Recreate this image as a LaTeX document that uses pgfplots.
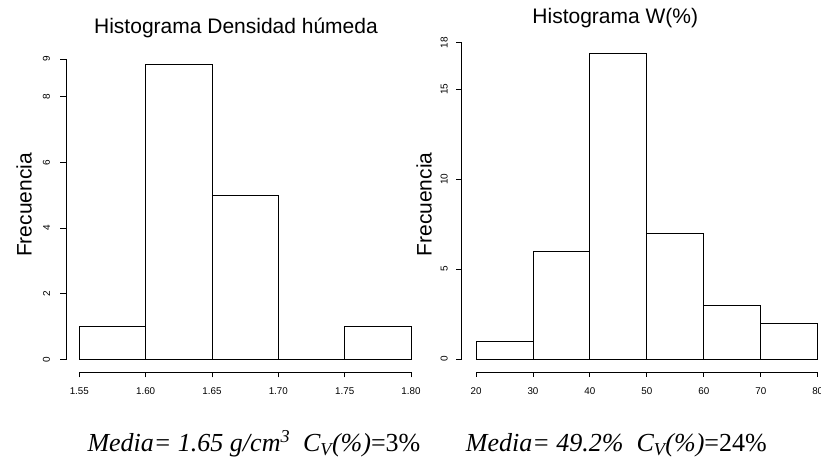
\documentclass[border=0pt]{standalone}
\usepackage{pgfplots}
\pgfplotsset{compat=1.18}
\usepackage{fontspec}
\setmainfont{Liberation Sans}
\newfontfamily\serif{Liberation Serif}
\begin{document}
\begin{tikzpicture}[x=1bp,y=1bp]
\useasboundingbox (0,0) rectangle (821,459);
\clip (0,0) rectangle (821,459);
\pgfplotsset{
  rx/.style={scale only axis, anchor=south west, axis x line=bottom, axis y line=none,
    axis line style={-, line width=0.9bp}, tick align=outside, major tick length=5bp,
    tick style={line width=0.9bp, black},
    /pgf/number format/assume math mode=true,
    xticklabel style={font=\fontsize{9.8bp}{11bp}\selectfont, anchor=north, inner sep=0pt, yshift=-10.5bp},
    height=10bp, ymin=0, ymax=1},
  ry/.style={scale only axis, anchor=south west, axis y line=left, axis x line=none,
    axis line style={-, line width=0.9bp}, tick align=outside, major tick length=6.5bp,
    tick style={line width=0.9bp, black},
    /pgf/number format/assume math mode=true,
    yticklabel style={font=\fontsize{10bp}{11bp}\selectfont, rotate=90, anchor=south, inner sep=0pt},
    width=10bp, xmin=0, xmax=1},
  rd/.style={scale only axis, anchor=south west, hide axis, clip=false}
}
% ---------- left histogram ----------
\begin{axis}[rd, at={(79.3bp,99.7bp)}, width=331.7bp, height=295.2bp,
  xmin=1.55, xmax=1.80, ymin=0, ymax=9]
\addplot[ybar interval, draw=black, fill=white, line width=0.9bp]
  coordinates {(1.55,1) (1.60,9) (1.65,5) (1.70,0) (1.75,1) (1.80,1)};
\end{axis}
\begin{axis}[rx, at={(79.3bp,86.7bp)}, width=331.7bp, xmin=1.55, xmax=1.80,
  xtick={1.55,1.60,1.65,1.70,1.75,1.80},
  xticklabels={1.55,1.60,1.65,1.70,1.75,1.80}]
\end{axis}
\begin{axis}[ry, at={(66.7bp,99.7bp)}, height=300.1bp, ymin=0, ymax=9.15,
  yticklabel style={yshift=10bp},
  ytick={0,2,4,6,8,9.15}, yticklabels={0,2,4,6,8,9}]
\end{axis}
% ---------- right histogram ----------
\begin{axis}[rd, at={(476bp,100bp)}, width=341.7bp, height=305.7bp,
  xmin=20, xmax=80, ymin=0, ymax=17]
\addplot[ybar interval, draw=black, fill=white, line width=0.9bp]
  coordinates {(20,1) (30,6) (40,17) (50,7) (60,3) (70,2) (80,2)};
\end{axis}
\begin{axis}[rx, at={(476bp,87bp)}, width=341.7bp, xmin=20, xmax=80,
  xtick={20,30,40,50,60,70,80}]
\end{axis}
\begin{axis}[ry, at={(461.7bp,100bp)}, height=316.4bp, ymin=0, ymax=17.6,
  major tick length=5.7bp, yticklabel style={yshift=8bp},
  ytick={0,5,10,15,17.6}, yticklabels={0,5,10,15,18}]
\end{axis}
% ---------- texts ----------
\node[anchor=base, font=\fontsize{21bp}{25bp}\selectfont, inner sep=0pt] at (236,425.7) {Histograma Densidad húmeda};
\node[anchor=base, font=\fontsize{21bp}{25bp}\selectfont, inner sep=0pt] at (615.3,435.7) {Histograma W(\%)};
\node[anchor=base, rotate=90, font=\fontsize{21bp}{25bp}\selectfont, inner sep=0pt] at (31.7,254) {Frecuencia};
\node[anchor=base, rotate=90, font=\fontsize{21bp}{25bp}\selectfont, inner sep=0pt] at (431.7,254.5) {Frecuencia};
\node[anchor=base west, inner sep=0pt, font=\serif\fontsize{26bp}{30bp}\selectfont] at (87.3,7.1)
  {\itshape Media= 1.65 g/cm\textsuperscript{3}\ \ C\textsubscript{V}(\%)\upshape=3\%};
\node[anchor=base west, inner sep=0pt, font=\serif\fontsize{26bp}{30bp}\selectfont] at (465.7,7.1)
  {\itshape Media= 49.2\%\ \ C\textsubscript{V}(\%)\upshape=24\%};
\end{tikzpicture}
\end{document}
